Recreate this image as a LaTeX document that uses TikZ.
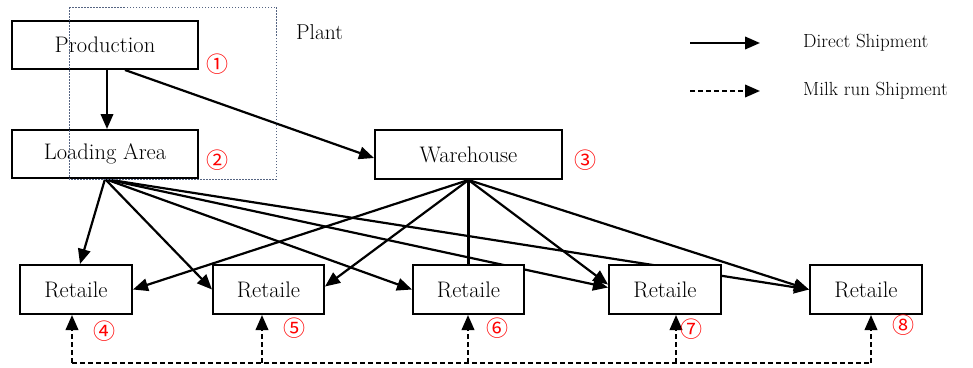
\documentclass[tikz,border=0pt]{standalone}
\usepackage{fontspec}
\newfontfamily\symfont{Noto Sans CJK SC}
\usetikzlibrary{arrows.meta,calc}
\definecolor{plantcol}{RGB}{85,100,130}
\begin{document}
\begin{tikzpicture}[x=1pt,y=-1pt,
  box/.style={draw,line width=2pt,fill=white,inner sep=0pt,font=\fontsize{22.5}{25}\selectfont},
  num/.style={text=red,font=\symfont\fontsize{22}{24}\selectfont,inner sep=0pt},
  ship/.style={line width=2.2pt,-{Triangle[length=15pt,width=12.5pt]}},
  milk/.style={line width=2.2pt,dash pattern=on 5pt off 3pt,-{Triangle[length=15pt,width=12.5pt]}},
  plain/.style={line width=2.2pt},
  lbl/.style={font=\fontsize{19}{22}\selectfont,inner sep=0pt,anchor=west}]
\useasboundingbox (0,0) rectangle (973,367);
\node[box,minimum width=186pt,minimum height=48pt] (P) at (105,45) {Production};
\node[box,minimum width=186pt,minimum height=48pt] (L) at (105,154) {Loading Area};
\node[box,minimum width=187pt,minimum height=49pt] (W) at (468.5,154.5) {Warehouse};
\node[box,minimum width=112pt,minimum height=49pt] (R4) at (76,289.5) {Retaile};
\node[box,minimum width=111pt,minimum height=49pt] (R5) at (268.5,289.5) {Retaile};
\node[box,minimum width=111pt,minimum height=49pt] (R6) at (468.5,289.5) {Retaile};
\node[box,minimum width=112pt,minimum height=49pt] (R7) at (665,289.5) {Retaile};
\node[box,minimum width=112pt,minimum height=49pt] (R8) at (866,289.5) {Retaile};
% connectors
\draw[ship] ([xshift=2pt]P.south) -- ([xshift=2pt]L.north);
\draw[ship] ([xshift=20pt]P.south) -- ([yshift=-3.5pt]W.west);
\draw[ship] (L.south) -- ([xshift=4pt]R4.north);
\draw[ship] (L.south) -- (R5.west);
\draw[ship] (L.south) -- (R6.west);
\draw[ship] (L.south) -- ([yshift=2pt]R7.west);
\draw[ship] (L.south) -- (R8.west);
\draw[ship] (W.south) -- (R4.east);
\draw[ship] (W.south) -- ([yshift=3pt]R5.east);
\draw[plain] (W.south) -- (R6.north);
\draw[ship] (W.south) -- ([yshift=5pt]R7.west);
\draw[ship] (W.south) -- (R8.west);
% redraw retail boxes on top of crossing lines
\node[box,minimum width=112pt,minimum height=49pt] at (R4) {Retaile};
\node[box,minimum width=111pt,minimum height=49pt] at (R5) {Retaile};
\node[box,minimum width=111pt,minimum height=49pt] at (R6) {Retaile};
\node[box,minimum width=112pt,minimum height=49pt] at (R7) {Retaile};
\node[box,minimum width=112pt,minimum height=49pt] at (R8) {Retaile};
% milk run
\coordinate (d4) at (72,363);
\coordinate (d5) at (262,363);
\coordinate (d6) at (468,363);
\coordinate (d7) at (676,363);
\coordinate (d8) at (871,363);
\draw[line width=2.2pt,dash pattern=on 5pt off 3pt] (d4) -- (d8);
\draw[milk] (d4) -- ([xshift=-4pt]R4.south);
\draw[milk] (d5) -- ([xshift=-6.5pt]R5.south);
\draw[milk] (d6) -- ([xshift=-0.5pt]R6.south);
\draw[milk] (d7) -- ([xshift=11pt]R7.south);
\draw[milk] (d8) -- ([xshift=5pt]R8.south);
% plant
\draw[color=plantcol,line width=0.8pt,dash pattern=on 1.5pt off 1.5pt] (69,7) rectangle (276,179);
\node[lbl,font=\fontsize{21.5}{24}\selectfont] (plant) at (296,32) {Plant};
% numbers
\node[num] (n1) at (217,64) {①};
\node[num] (n2) at (217,160) {②};
\node[num] (n3) at (585,160) {③};
\node[num] (n4) at (104,331) {④};
\node[num] (n5) at (294,328) {⑤};
\node[num] (n6) at (497,328) {⑥};
\node[num] (n7) at (691,329) {⑦};
\node[num] (n8) at (903,325) {⑧};
% legend
\coordinate (a1) at (690,43);
\coordinate (a2) at (760,43);
\coordinate (b1) at (690,91);
\coordinate (b2) at (760,91);
\draw[ship] (a1) -- (a2);
\draw[milk] (b1) -- (b2);
\node[lbl] (t1) at (803,43) {Direct Shipment};
\node[lbl] (t2) at (803,91) {Milk run Shipment};
\end{tikzpicture}
\end{document}
